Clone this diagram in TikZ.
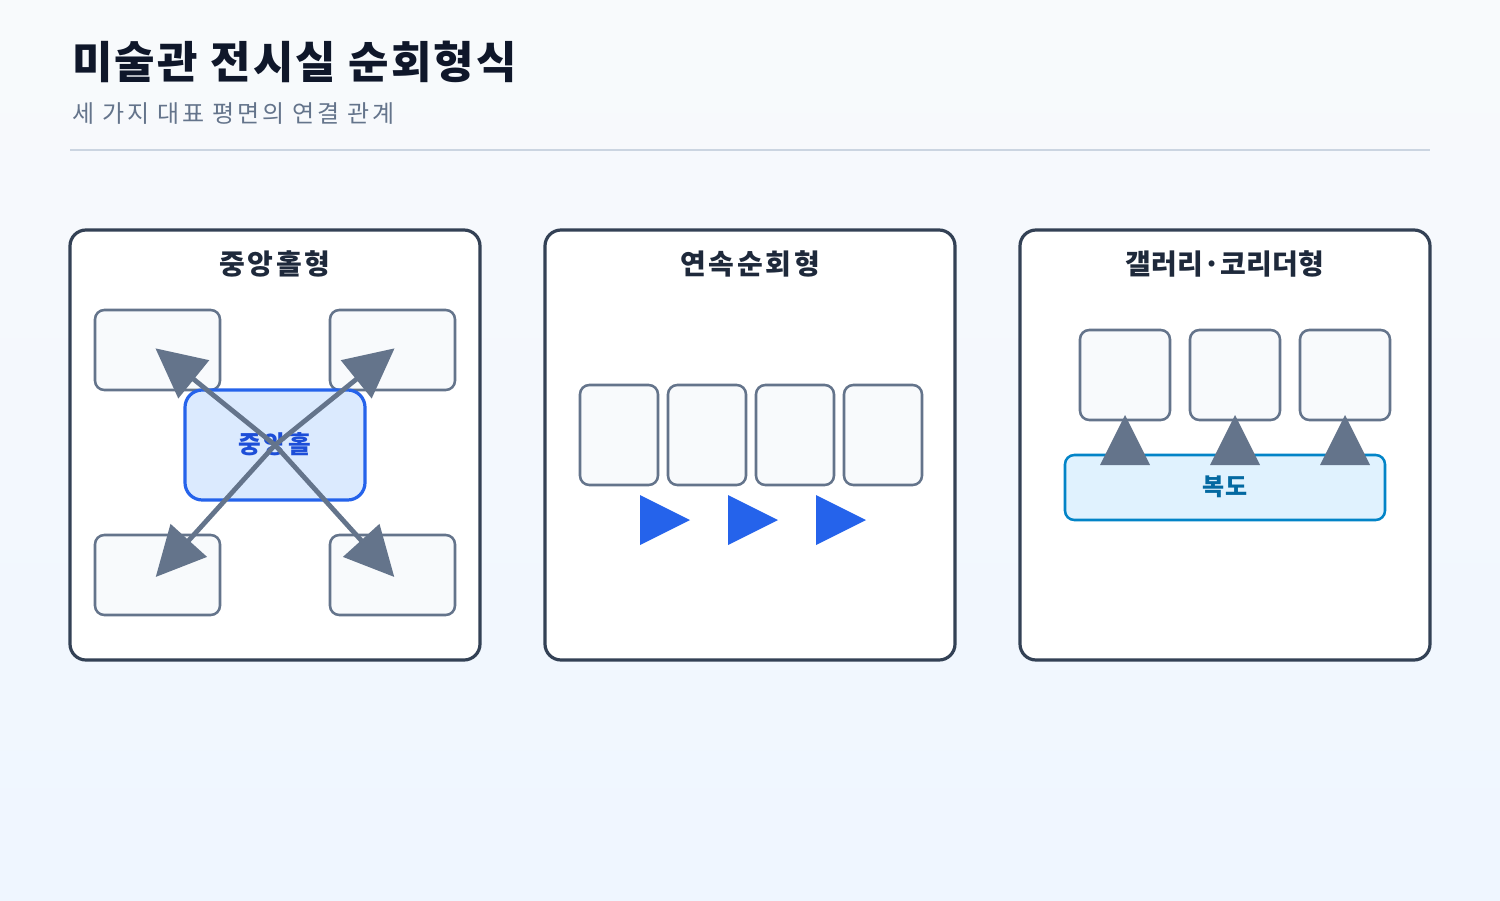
\documentclass[tikz,border=0pt]{standalone}
\usepackage{fontspec}
\setmainfont{Noto Sans CJK KR}
\usetikzlibrary{arrows.meta}
\definecolor{bgA}{HTML}{F8FAFC}
\definecolor{bgB}{HTML}{EFF6FF}
\definecolor{ink}{HTML}{0F172A}
\definecolor{ink2}{HTML}{1E293B}
\definecolor{sub}{HTML}{64748B}
\definecolor{rule}{HTML}{CBD5E1}
\definecolor{frame}{HTML}{334155}
\definecolor{room}{HTML}{F8FAFC}
\definecolor{roomline}{HTML}{64748B}
\definecolor{hallfill}{HTML}{DBEAFE}
\definecolor{hallline}{HTML}{2563EB}
\definecolor{halltext}{HTML}{1D4ED8}
\definecolor{corrfill}{HTML}{E0F2FE}
\definecolor{corrline}{HTML}{0284C7}
\definecolor{corrtext}{HTML}{0369A1}
\tikzset{
  panel/.style={draw=frame, line width=2.4pt, fill=white, rounded corners=12pt},
  roombox/.style={draw=roomline, line width=1.9pt, fill=room, rounded corners=7pt, inner sep=0pt},
  paneltitle/.style={font=\bfseries\fontsize{21pt}{24pt}\selectfont\addfontfeature{LetterSpace=10}, text=ink2},
  flow/.style={draw=roomline, line width=3.6pt, -{Triangle[length=37pt,width=36pt]}, shorten >=-2pt},
  upflow/.style={draw=none, fill=roomline},
  runflow/.style={fill=hallline, draw=none}
}
\begin{document}
\begin{tikzpicture}[x=0.75pt,y=-0.75pt]
\useasboundingbox (0,0) rectangle (1500,900);
\shade[left color=bgA, right color=bgB, shading angle=0] (0,0) rectangle (1500,900);
\shade[top color=bgA, bottom color=bgB, opacity=0.5] (0,0) rectangle (1500,900);

% title
\node[anchor=base west, inner sep=0pt, font=\bfseries\fontsize{33pt}{38pt}\selectfont\addfontfeature{LetterSpace=5}, text=ink] (title) at (72,78) {미술관 전시실 순회형식};
\node[anchor=base west, inner sep=0pt, font=\fontsize{18pt}{21pt}\selectfont\addfontfeature{LetterSpace=11.5}, text=sub] (subtitle) at (72,122) {세 가지 대표 평면의 연결 관계};
\draw[rule, line width=2.2pt] (70,150) -- (1430,150);

% panels
\draw[panel] (70,230) rectangle (480,660);
\draw[panel] (545,230) rectangle (955,660);
\draw[panel] (1020,230) rectangle (1430,660);
\node[paneltitle] (t1) at (275,264) {중앙홀형};
\node[paneltitle] (t2) at (750,264) {연속순회형};
\node[paneltitle, font=\bfseries\fontsize{21pt}{24pt}\selectfont\addfontfeature{LetterSpace=1}] (t3) at (1225,264) {갤러리·코리더형};

% panel 1
\node[roombox, minimum width=93.75pt, minimum height=60pt] (r1) at (157.5,350) {};
\node[roombox, minimum width=93.75pt, minimum height=60pt] (r2) at (392.5,350) {};
\node[roombox, minimum width=93.75pt, minimum height=60pt] (r3) at (157.5,575) {};
\node[roombox, minimum width=93.75pt, minimum height=60pt] (r4) at (392.5,575) {};
\node[draw=hallline, line width=2.4pt, fill=hallfill, rounded corners=13pt, minimum width=135pt, minimum height=82.5pt, inner sep=0pt] (hall) at (275,445) {};
\node[font=\bfseries\fontsize{18.5pt}{20pt}\selectfont\addfontfeature{LetterSpace=10}, text=halltext] (hallt) at (275,444) {중앙홀};
\draw[flow] (hall.center) -- (r1.center);
\draw[flow] (hall.center) -- (r2.center);
\draw[flow] (hall.center) -- (r3.center);
\draw[flow] (hall.center) -- (r4.center);

% panel 2
\node[roombox, minimum width=58.5pt, minimum height=75pt] (s1) at (619,435) {};
\node[roombox, minimum width=58.5pt, minimum height=75pt] (s2) at (707,435) {};
\node[roombox, minimum width=58.5pt, minimum height=75pt] (s3) at (795,435) {};
\node[roombox, minimum width=58.5pt, minimum height=75pt] (s4) at (883,435) {};
\fill[runflow] (640,495) -- (690,520) -- (640,545) -- cycle;
\fill[runflow] (728,495) -- (778,520) -- (728,545) -- cycle;
\fill[runflow] (816,495) -- (866,520) -- (816,545) -- cycle;

% panel 3
\node[roombox, minimum width=67.5pt, minimum height=67.5pt] (g1) at (1125,375) {};
\node[roombox, minimum width=67.5pt, minimum height=67.5pt] (g2) at (1235,375) {};
\node[roombox, minimum width=67.5pt, minimum height=67.5pt] (g3) at (1345,375) {};
\node[draw=corrline, line width=1.9pt, fill=corrfill, rounded corners=7pt, minimum width=240pt, minimum height=48.75pt, inner sep=0pt] (corr) at (1225,487.5) {};
\node[font=\bfseries\fontsize{18pt}{20pt}\selectfont\addfontfeature{LetterSpace=5}, text=corrtext] (corrt) at (1225,487) {복도};
\fill[upflow] (1100,465) -- (1125,415) -- (1150,465) -- cycle;
\fill[upflow] (1210,465) -- (1235,415) -- (1260,465) -- cycle;
\fill[upflow] (1320,465) -- (1345,415) -- (1370,465) -- cycle;
\end{tikzpicture}
\end{document}
